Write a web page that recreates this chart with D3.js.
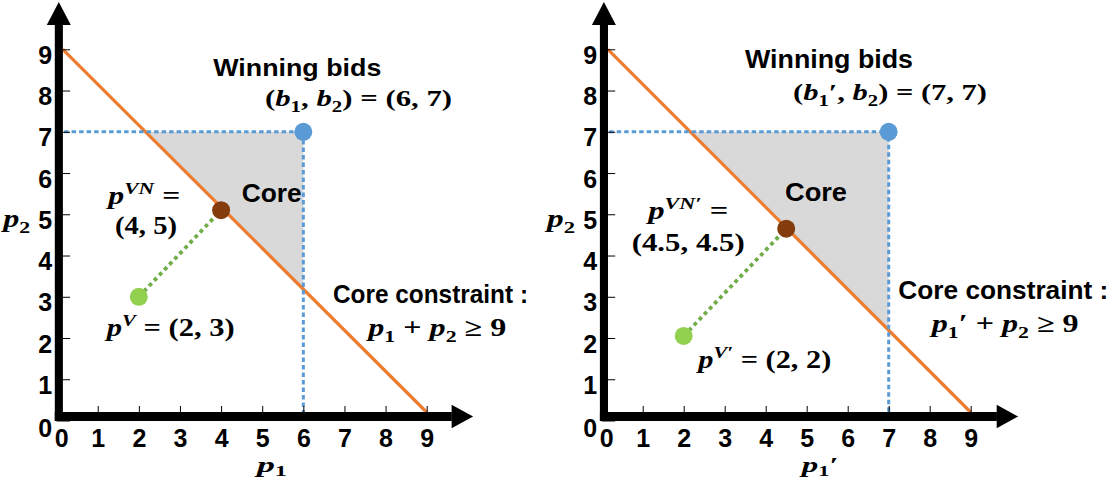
<!DOCTYPE html>
<html><head><meta charset="utf-8">
<script src="https://cdn.jsdelivr.net/npm/d3@7"></script>
<style>body{margin:0;background:#fff} svg{display:block} text{white-space:pre}</style>
</head><body>
<script>
// ---------- data ----------
const tickValues = [0, 1, 2, 3, 4, 5, 6, 7, 8, 9];

// left panel
const leftConstraint = [[0.15, 9], [9, 0.2]];     // p1 + p2 = 9 as drawn
const leftCore = [[2.15, 7], [6, 7], [6, 3.2]];
const leftBid = [6, 7];
const leftVN = [4, 5.1];
const leftV = [2, 3];

// right panel
const rightConstraint = [[0.15, 9], [9, 0.2]];    // p1' + p2 = 9 as drawn
const rightCore = [[2.15, 7], [7, 7], [7, 2.2]];
const rightBid = [7, 7];
const rightVN = [4.5, 4.65];
const rightV = [2, 2.05];

// ---------- drawing ----------
const W = 1111, H = 480;
const svg = d3.select('body').append('svg').attr('width', W).attr('height', H);

const C = {orange:'#ed7d31', blue:'#5b9bd5', grey:'#d9d9d9', green:'#92d050', greenLine:'#70ad47', brown:'#843c0c'};

function sansText(x, y, s, size, len) {
  const t = svg.append('text').attr('x', x).attr('y', y)
    .attr('font-family', '"Liberation Sans", Arial, sans-serif').attr('font-weight', 'bold')
    .attr('font-size', size).attr('fill', '#000').text(s);
  if (len) t.attr('textLength', len).attr('lengthAdjust', 'spacingAndGlyphs');
  return t;
}
function mathText(x, y, segs, size, len, subShift) {
  const sub = subShift === undefined ? 0.25 : subShift;
  const t = svg.append('text').attr('x', x).attr('y', y)
    .attr('font-family', '"Liberation Serif", "DejaVu Serif", serif').attr('font-weight', 'bold')
    .attr('font-size', size).attr('fill', '#000');
  let off = 0;
  segs.forEach(([s, k]) => {
    let target = 0, fs = size, it = false;
    if (k === 'i') it = true;
    if (k === 'sub') { target = sub * size; fs = 0.68 * size; }
    if (k === 'sup') { target = -0.42 * size; fs = 0.68 * size; it = true; }
    const ts = t.append('tspan').attr('font-size', fs).attr('dy', target - off).text(s);
    if (it) ts.attr('font-style', 'italic');
    off = target;
  });
  if (len) t.attr('textLength', len).attr('lengthAdjust', 'spacingAndGlyphs');
  return t;
}

function panel(xRange, d) {
  const x = d3.scaleLinear().domain([0, 9]).range(xRange);
  const y = d3.scaleLinear().domain([0, 9]).range([420.5, 49.3]);
  const g = svg.append('g');
  const line = d3.line().x(p => x(p[0])).y(p => y(p[1]));

  // core region
  g.append('path').attr('d', line(d.core) + 'Z').attr('fill', C.grey);
  // constraint line
  g.append('path').attr('d', line(d.constraint)).attr('stroke', C.orange)
    .attr('stroke-width', 3.3).attr('fill', 'none');
  // bid guides
  g.append('path').attr('d', line([[0, d.bid[1]], d.bid, [d.bid[0], 0]]))
    .attr('stroke', C.blue).attr('stroke-width', 3).attr('stroke-dasharray', '4.5 3')
    .attr('fill', 'none');
  // VCG -> VN dotted
  g.append('path').attr('d', line([d.v, d.vn])).attr('stroke', C.greenLine)
    .attr('stroke-width', 3.8).attr('stroke-dasharray', '3.8 3.6').attr('fill', 'none');
  // points
  g.append('circle').attr('cx', x(d.bid[0])).attr('cy', y(d.bid[1])).attr('r', 9).attr('fill', C.blue);
  g.append('circle').attr('cx', x(d.vn[0])).attr('cy', y(d.vn[1])).attr('r', 9).attr('fill', C.brown);
  g.append('circle').attr('cx', x(d.v[0])).attr('cy', y(d.v[1])).attr('r', 9).attr('fill', C.green);

  // axes with ticks
  const yAx = g.append('g').attr('transform', `translate(${x(0)},0)`)
    .call(d3.axisLeft(y).tickValues(tickValues).tickSizeInner(-13.5).tickSizeOuter(0).tickPadding(4.5).tickFormat(d3.format('d')));
  const xAx = g.append('g').attr('transform', `translate(0,${y(0)})`)
    .call(d3.axisBottom(x).tickValues(tickValues).tickSizeInner(-14.5).tickSizeOuter(0).tickPadding(8.5).tickFormat(d3.format('d')));
  [yAx, xAx].forEach(a => {
    a.select('.domain').remove();
    a.attr('font-family', '"Liberation Sans", Arial, sans-serif').attr('font-size', 25).attr('font-weight', 'bold');
    a.selectAll('.tick line').attr('stroke', '#000').attr('stroke-width', 1);
    a.selectAll('.tick text').attr('fill', '#000');
  });
  yAx.selectAll('.tick text').attr('transform', v => `translate(0,${v === 0 ? 7.5 : 6})`);
  xAx.selectAll('.tick text').attr('transform', v => `translate(${v === 0 ? 4.5 : 0},0)`);

  // thick axis bars + arrows
  const x0 = x(0), y0 = y(0);
  const xc = x0 + 2.2, yc = y0 - 4;
  g.append('rect').attr('x', x0 - 1.8).attr('y', 24).attr('width', 8.1).attr('height', y0 + 0.5 - 24).attr('fill', '#000');
  g.append('rect').attr('x', x0 - 1.8).attr('y', y0 - 8.5).attr('width', 397).attr('height', 9).attr('fill', '#000');
  g.append('path').attr('d', `M${xc},2L${xc + 12},25L${xc - 12},25Z`).attr('fill', '#000');
  g.append('path').attr('d', `M${x0 + 416.5},${yc}L${x0 + 395},${yc - 11.7}L${x0 + 395},${yc + 11.7}Z`).attr('fill', '#000');
}

panel([56.6, 426.7], {constraint: leftConstraint, core: leftCore, bid: leftBid, vn: leftVN, v: leftV});
panel([601.7, 970.7], {constraint: rightConstraint, core: rightCore, bid: rightBid, vn: rightVN, v: rightV});

// ---------- annotations: left ----------
sansText(213.3, 75.7, 'Winning bids', 24, 168);
mathText(265, 106, [['(', 'n'], ['b', 'i'], ['1', 'sub'], [', ', 'n'], ['b', 'i'], ['2', 'sub'], [') = (6, 7)', 'n']], 24, 187);
sansText(241.7, 201.7, 'Core', 25, 60);
mathText(108.3, 204, [['p', 'i'], ['VN', 'sup'], [' =', 'n']], 25, 72);
mathText(115, 234, [['(4, 5)', 'n']], 25, 62);
mathText(106.7, 336, [['p', 'i'], ['V', 'sup'], [' = (2, 3)', 'n']], 25, 128);
sansText(333, 303.3, 'Core constraint :', 25, 195);
mathText(368.3, 336, [['p', 'i'], ['1', 'sub'], [' + ', 'n'], ['p', 'i'], ['2', 'sub'], [' ≥ 9', 'n']], 25, 138);
mathText(3.3, 227, [['p', 'i'], ['2', 'sub']], 25, 27);
mathText(257, 472, [['p', 'i'], ['1', 'sub']], 22, 30, 0.17);

// ---------- annotations: right ----------
sansText(745, 68.3, 'Winning bids', 25, 168);
mathText(793, 100, [['(', 'n'], ['b', 'i'], ['1', 'sub'], ['′', 'n'], [', ', 'n'], ['b', 'i'], ['2', 'sub'], [') = (7, 7)', 'n']], 24, 194);
sansText(785, 201, 'Core', 25, 62);
mathText(648.3, 219, [['p', 'i'], ['VN′', 'sup'], [' =', 'n']], 25, 80);
mathText(631.7, 251, [['(4.5, 4.5)', 'n']], 25, 113);
mathText(698.3, 368, [['p', 'i'], ['V′', 'sup'], [' = (2, 2)', 'n']], 25, 133);
sansText(898.3, 299, 'Core constraint :', 25, 210);
mathText(931.7, 332, [['p', 'i'], ['1', 'sub'], ['′', 'n'], [' + ', 'n'], ['p', 'i'], ['2', 'sub'], [' ≥ 9', 'n']], 25, 147);
mathText(547, 227, [['p', 'i'], ['2', 'sub']], 25, 28);
mathText(801.7, 472, [['p', 'i'], ['1', 'sub'], ['′', 'n']], 22, 37, 0.17);
</script>
</body></html>
